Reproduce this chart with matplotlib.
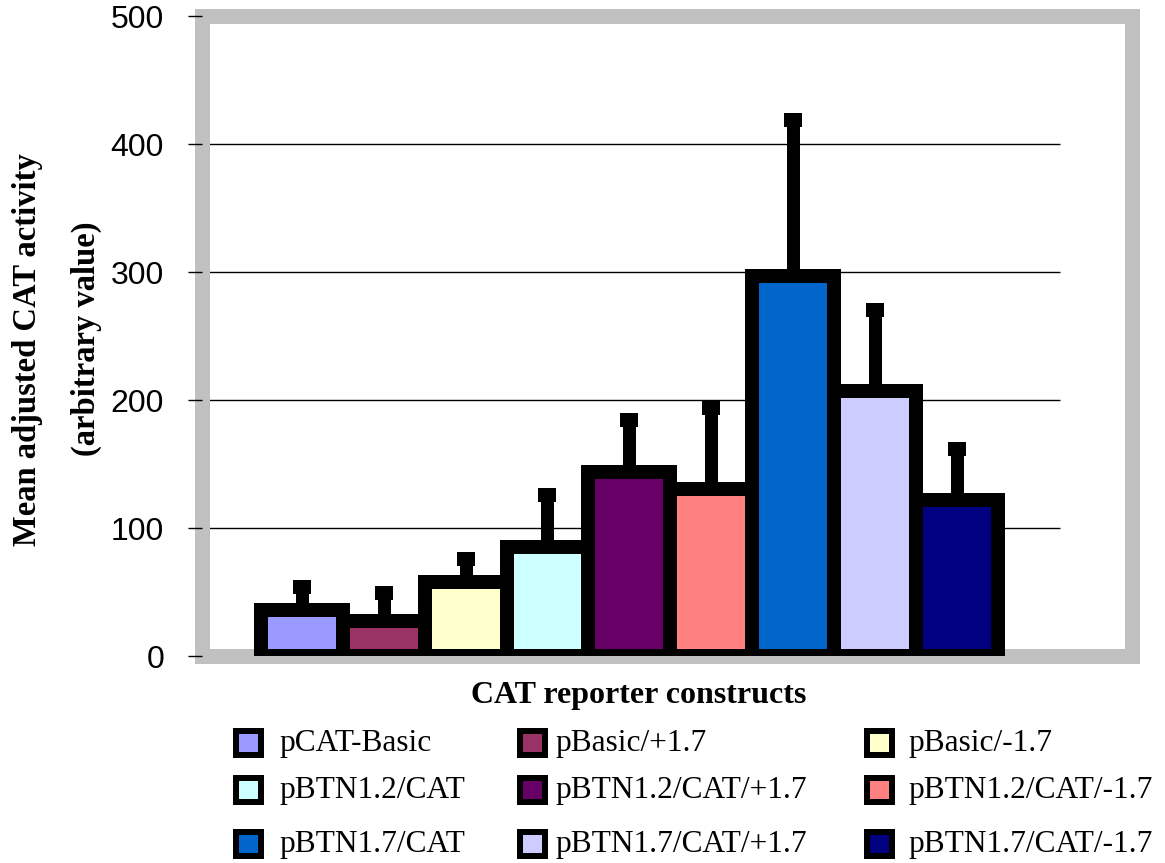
import numpy as np
from matplotlib import pyplot as plt
from matplotlib.patches import Rectangle

# data
constructs = ["pCAT-Basic", "pBasic/+1.7", "pBasic/-1.7",
              "pBTN1.2/CAT", "pBTN1.2/CAT/+1.7", "pBTN1.2/CAT/-1.7",
              "pBTN1.7/CAT", "pBTN1.7/CAT/+1.7", "pBTN1.7/CAT/-1.7"]
mean_activity = [36, 27, 58, 85.5, 144, 130.5, 297, 207, 121.5]
error_up = [18, 22, 18, 40, 40.5, 63, 122, 63, 40]
bar_colors = ["#9999FF", "#993366", "#FFFFCC", "#CCFFFF", "#660066",
              "#FF8080", "#0066CC", "#CCCCFF", "#000080"]
y_ticks = [0, 100, 200, 300, 400, 500]
grid_levels = [100, 200, 300, 400]

W, H = 1165, 863
PX = 72 / 100  # points per pixel at dpi 100
SERIF = ["Liberation Serif", "DejaVu Serif"]

fig = plt.figure(figsize=(W / 100, H / 100), dpi=100)
fig.patch.set_facecolor("white")
ax = fig.add_axes([202 / W, 1 - 656 / H, 930 / W, 640 / H])

x = np.arange(len(constructs))
ax.bar(x, mean_activity, width=1.0, color=bar_colors, edgecolor="black",
       linewidth=14 * PX, zorder=3)
ax.errorbar(x, mean_activity, yerr=[np.zeros(len(x)), error_up], fmt="none",
            ecolor="black", elinewidth=13 * PX, capsize=9 * PX,
            capthick=14 * PX, zorder=4)

ax.set_xlim(-1.22, 10.14)
ax.set_ylim(0, 500)
ax.hlines(grid_levels, -1.22, 9.26, colors="black", linewidth=1.0, zorder=2)

for s in ax.spines.values():
    s.set_color("#C0C0C0")
    s.set_linewidth(15 * PX)

ax.set_xticks([])
ax.set_yticks(y_ticks)
ax.tick_params(axis="y", direction="out", length=14 * PX, width=1.0,
               color="black", pad=24 * PX, labelsize=23,
               labelfontfamily="Liberation Sans")
ax.yaxis.set_zorder(2.6)

# axis titles
fig.text(28 / W, 1 - 350 / H, "Mean adjusted CAT activity", rotation=90,
         ha="center", va="center", fontsize=23.5, fontweight="bold", family=SERIF)
fig.text(86.5 / W, 1 - 339 / H, "(arbitrary value)", rotation=90,
         ha="center", va="center", fontsize=23.5, fontweight="bold", family=SERIF)
fig.text(639 / W, 1 - 703 / H, "CAT reporter constructs", ha="center",
         va="baseline", fontsize=23, fontweight="bold", family=SERIF)

# legend, 3 x 3 grid
key_left = [233, 517, 864]
text_left = [279, 555, 908]
row_mid = [743, 790, 844]
for i, (name, color) in enumerate(zip(constructs, bar_colors)):
    r, c = divmod(i, 3)
    fig.patches.append(Rectangle(((key_left[c] + 3) / W, 1 - (row_mid[r] + 12) / H),
                                 25 / W, 24 / H, transform=fig.transFigure,
                                 facecolor=color, edgecolor="black",
                                 linewidth=6 * PX))
    fig.text(text_left[c] / W, 1 - (row_mid[r] + 8) / H, name, va="baseline",
             fontsize=22.6, family=SERIF)

fig.savefig("out.png", dpi=100)
